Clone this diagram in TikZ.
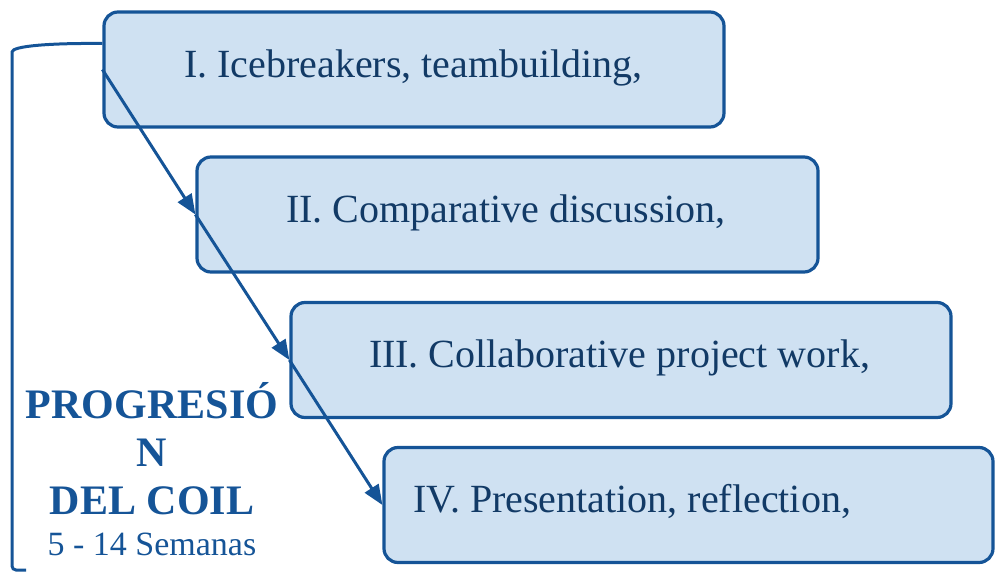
\documentclass[tikz,border=0pt]{standalone}
\usepackage{fontspec}
\setmainfont{Liberation Serif}
\usepackage{xcolor}
\usepackage{tikz}
\definecolor{coilblue}{RGB}{21, 84, 151}
\definecolor{coilfill}{RGB}{207, 225, 242}
\definecolor{coilnavy}{RGB}{18, 58, 102}
\usetikzlibrary{arrows.meta,positioning}

\begin{document}
\begin{tikzpicture}[x=1pt, y=-1pt]
    \tikzstyle{stage} = [rectangle, rounded corners=14pt, draw=coilblue, fill=coilfill,
                         line width=3.2pt, minimum height=115pt, inner ysep=0pt,
                         text height=28pt, text depth=13pt, text=coilnavy,
                         font=\fontsize{40}{48}\selectfont]
    \tikzstyle{flow} = [-{Triangle[length=20pt,width=16pt]}, line width=3pt, coilblue]
    \tikzstyle{bracket} = [line width=3pt, coilblue, rounded corners=4pt]

    \useasboundingbox (0,0) rectangle (996,573);

    % Stages
    \node[stage, inner xsep=80pt] (s1) at (414,69.5) {\makebox[460pt][l]{I. Icebreakers, teambuilding,}};
    \node[stage, inner xsep=89pt] (s2) at (507.5,214.5) {\makebox[443pt][l]{II. Comparative discussion,}};
    \node[stage, inner xsep=78pt] (s3) at (621,360) {\makebox[504pt][l]{III. Collaborative project work,}};
    \node[stage, inner xsep=29pt] (s4) at (688.5,505) {\makebox[551pt][l]{IV. Presentation, reflection,}};

    % Label
    \node[align=center, text=coilblue, font=\fontsize{42}{48}\selectfont, inner sep=0pt, anchor=north]
        (prog) at (152,382) {\textbf{PROGRESIÓ}\\\textbf{N}\\\textbf{DEL COIL}\\[-7pt]{\fontsize{34}{40}\selectfont 5 - 14 Semanas}};

    % Connections
    \draw[flow] (s1.west) -- (s2.west);
    \draw[flow] (s2.west) -- (s3.west);
    \draw[flow] (s3.west) -- (s4.west);

    \coordinate (brtop) at ([yshift=26pt]s1.west);
    \coordinate (brend) at (26,570);
    \draw[bracket] (brtop) .. controls (50,43) and (12,46) .. (12,56) -- (12,570) -- (brend);
\end{tikzpicture}
\end{document}
